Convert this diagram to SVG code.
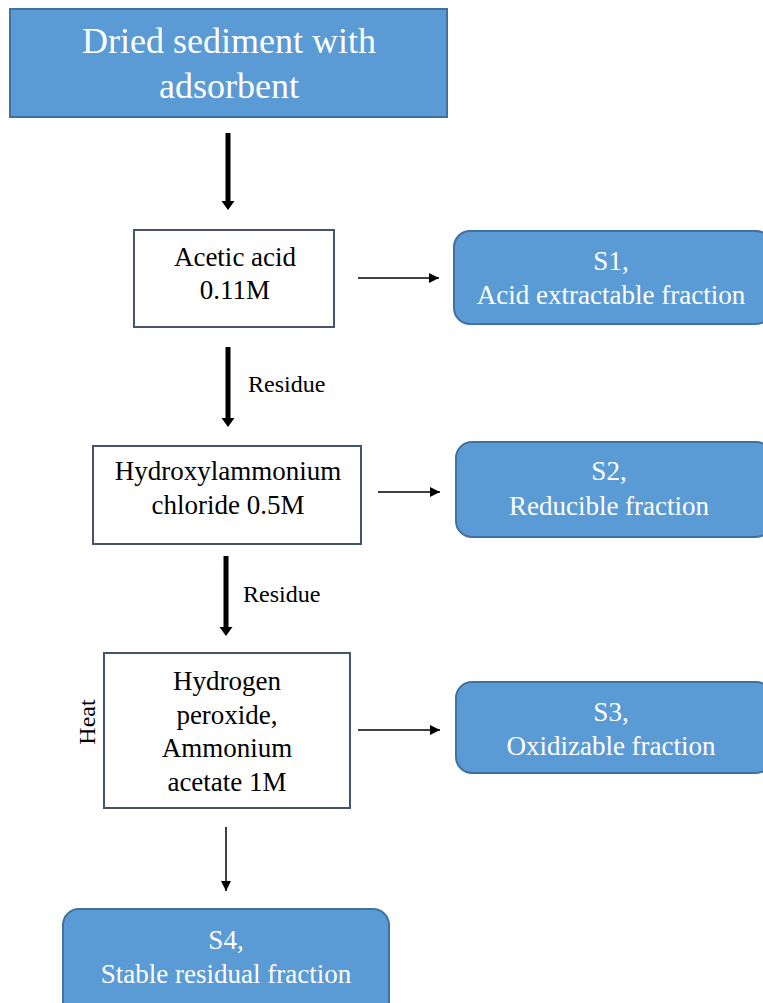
<svg xmlns="http://www.w3.org/2000/svg" width="763" height="1003" viewBox="0 0 763 1003" font-family="'Liberation Serif', 'Times New Roman', Tinos, 'Noto Serif', 'DejaVu Serif', FreeSerif, serif">
<defs>
<style>
.blue{fill:#5b9bd5;stroke:#41719c;stroke-width:2}
.wbox{fill:#ffffff;stroke:#44546a;stroke-width:2}
.t{font-size:27px;fill:#000;text-anchor:middle}
.tw{font-size:27px;fill:#ffffff;text-anchor:middle}
.big{font-size:36px}
.lab{font-size:24px;fill:#000}
.thick{stroke:#000;stroke-width:5;fill:none}
.thin{stroke:#000;stroke-width:1.5;fill:none}
</style>
<marker id="ah" viewBox="0 0 10 10" refX="10" refY="5" markerWidth="10" markerHeight="10" markerUnits="userSpaceOnUse" orient="auto">
<path d="M0,0 L10,5 L0,10 Z" fill="#000"/>
</marker>
</defs>
<rect width="763" height="1003" fill="#ffffff"/>

<g id="n-start">
<rect class="blue" x="10" y="9" width="437" height="108"/>
<text class="tw big" x="229" y="53">Dried sediment with</text>
<text class="tw big" x="229" y="98">adsorbent</text>
</g>

<g id="n-acetic">
<rect class="wbox" x="134" y="230" width="200" height="97"/>
<text class="t" x="235" y="266">Acetic acid</text>
<text class="t" x="235" y="299">0.11M</text>
</g>

<g id="n-s1">
<rect class="blue" x="454" y="231" width="318" height="93" rx="16"/>
<text class="tw" x="611" y="270">S1,</text>
<text class="tw" x="611" y="304">Acid extractable fraction</text>
</g>

<g id="n-hydroxyl">
<rect class="wbox" x="93" y="446" width="268" height="98"/>
<text class="t" x="228" y="480">Hydroxylammonium</text>
<text class="t" x="228" y="514">chloride 0.5M</text>
</g>

<g id="n-s2">
<rect class="blue" x="456" y="442" width="316" height="95" rx="16"/>
<text class="tw" x="609" y="480">S2,</text>
<text class="tw" x="609" y="515">Reducible fraction</text>
</g>

<g id="n-peroxide">
<rect class="wbox" x="104" y="653" width="246" height="155"/>
<text class="t" x="227" y="690">Hydrogen</text>
<text class="t" x="227" y="724">peroxide,</text>
<text class="t" x="227" y="757">Ammonium</text>
<text class="t" x="227" y="791">acetate 1M</text>
</g>

<g id="n-s3">
<rect class="blue" x="456" y="682" width="316" height="91" rx="16"/>
<text class="tw" x="611" y="721">S3,</text>
<text class="tw" x="611" y="755">Oxidizable fraction</text>
</g>

<g id="n-s4">
<rect class="blue" x="63" y="909" width="326" height="110" rx="16"/>
<text class="tw" x="226" y="949">S4,</text>
<text class="tw" x="226" y="983">Stable residual fraction</text>
</g>

<g id="connectors">
<line class="thick" x1="228" y1="133" x2="228" y2="202"/>
<path d="M221.5,201 L234.5,201 L228,210 Z" fill="#000"/>
<line class="thick" x1="228" y1="347" x2="228" y2="419"/>
<path d="M221.5,418 L234.5,418 L228,427 Z" fill="#000"/>
<line class="thick" x1="226" y1="556" x2="226" y2="628"/>
<path d="M219.5,627 L232.5,627 L226,636 Z" fill="#000"/>
<line class="thin" x1="226" y1="827" x2="226" y2="891" marker-end="url(#ah)"/>
<line class="thin" x1="358" y1="278" x2="439" y2="278" marker-end="url(#ah)"/>
<line class="thin" x1="378" y1="492" x2="440" y2="492" marker-end="url(#ah)"/>
<line class="thin" x1="358" y1="730" x2="440" y2="730" marker-end="url(#ah)"/>
<text class="lab" x="248" y="392">Residue</text>
<text class="lab" x="243" y="602">Residue</text>
<text class="lab" transform="translate(95,722) rotate(-90)" text-anchor="middle">Heat</text>
</g>
</svg>
